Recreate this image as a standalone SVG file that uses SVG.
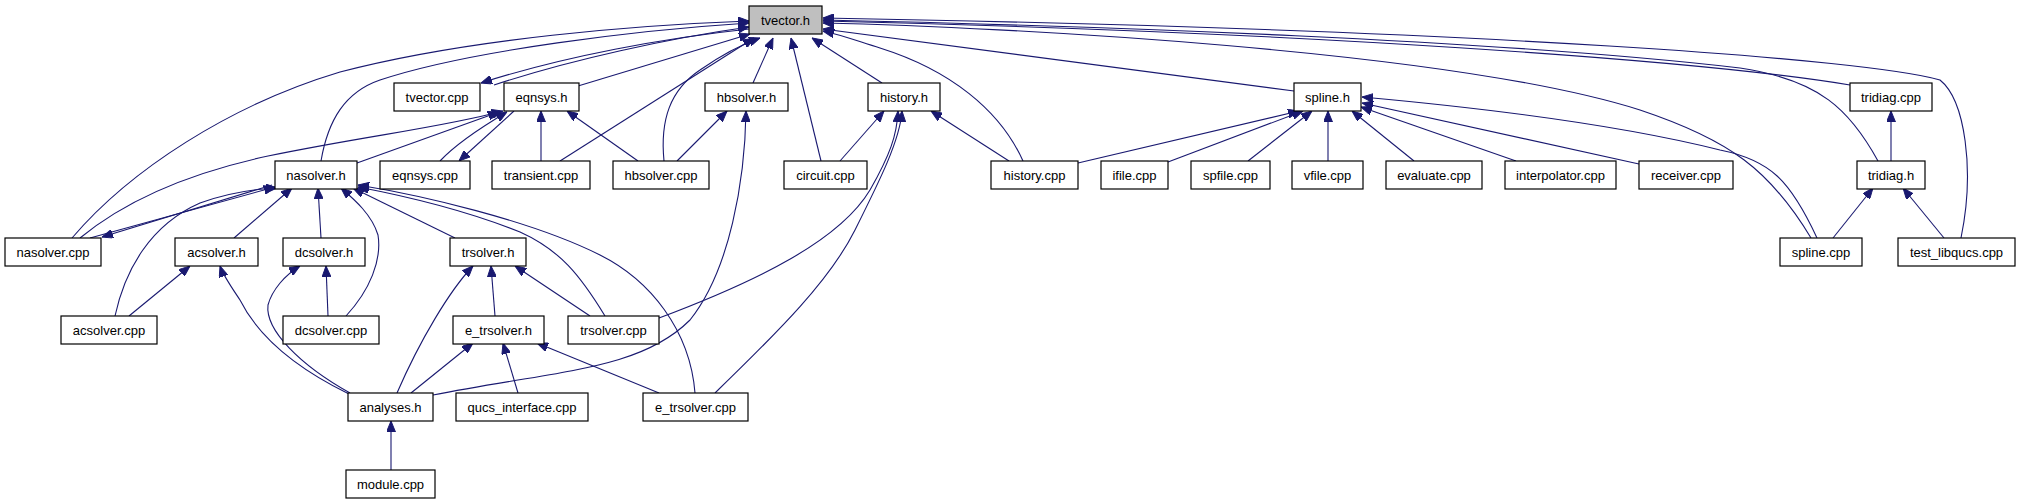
<svg xmlns="http://www.w3.org/2000/svg" width="2021" height="504" viewBox="0 0 2021 504">
<style>
.n rect{fill:#fff;stroke:#000;stroke-width:1.2}
.n text{font-family:"Liberation Sans",Arial,sans-serif;font-size:13px;text-anchor:middle;fill:#000}
#tvector_h rect{fill:#bfbfbf}
.e path{fill:none;stroke:#191970;stroke-width:1.1;marker-end:url(#a)}
</style>
<defs>
<marker id="a" viewBox="0 0 10 10" refX="10" refY="5" markerWidth="11" markerHeight="9" markerUnits="userSpaceOnUse" orient="auto" preserveAspectRatio="none">
<path d="M0,0 L10,5 L0,10 z" fill="#191970" stroke="#191970" stroke-width="1"/>
</marker>
</defs>
<rect width="2021" height="504" fill="#fff"/>
<g id="edges" class="e">
<path d="M72,238 C130,170 230,105 340,72 C470,38 640,25 749,21"/>
<path d="M321,161 C328,120 345,92 380,80 C470,50 640,30 749,23"/>
<path d="M494,85 C570,60 670,38 749,27"/>
<path d="M749,29 C665,38 565,56 481,83"/>
<path d="M578,86 L750,34"/>
<path d="M560,161 L754,38"/>
<path d="M664,161 C660,120 670,90 700,70 C720,56 740,45 760,38"/>
<path d="M753,83 L773,38"/>
<path d="M821,161 L791,38"/>
<path d="M882,83 L812,38"/>
<path d="M1023,161 C1000,110 950,70 880,48 C860,42 842,35 823,31"/>
<path d="M1294,91 L823,29"/>
<path d="M1811,238 C1770,170 1730,140 1640,110 C1450,50 1000,27 823,23"/>
<path d="M1850,85 C1700,60 1300,32 823,21"/>
<path d="M1878,161 C1850,110 1820,80 1740,68 C1500,40 1100,26 823,20"/>
<path d="M1961,238 C1975,170 1965,100 1940,80 C1870,60 1500,30 823,18"/>
<path d="M440,161 C455,145 480,128 507,112"/>
<path d="M514,111 L459,161"/>
<path d="M357,163 L499,112"/>
<path d="M80,238 C120,205 180,175 268,156 C370,135 440,128 503,111"/>
<path d="M541,161 L541,111"/>
<path d="M638,161 L567,111"/>
<path d="M677,161 L727,111"/>
<path d="M433,395 C560,370 640,370 690,320 C730,270 745,180 746,111"/>
<path d="M840,161 L884,111"/>
<path d="M659,318 C760,280 840,240 870,190 C890,155 897,135 898,111"/>
<path d="M715,393 C780,330 830,280 855,230 C880,180 900,140 902,111"/>
<path d="M1009,161 L931,111"/>
<path d="M1078,163 L1299,111"/>
<path d="M1168,162 L1303,111"/>
<path d="M1248,161 L1312,111"/>
<path d="M1328,161 L1328,111"/>
<path d="M1414,161 L1352,111"/>
<path d="M1516,161 L1361,107"/>
<path d="M1639,164 L1362,103"/>
<path d="M1817,238 C1790,180 1770,160 1720,150 C1600,120 1450,105 1362,97"/>
<path d="M1891,161 L1891,111"/>
<path d="M1833,238 L1873,188"/>
<path d="M1944,238 L1903,188"/>
<path d="M90,238 L275,187"/>
<path d="M272,185 L102,237"/>
<path d="M115,316 C125,270 150,225 200,203 C230,192 255,189 277,188"/>
<path d="M234,238 L292,188"/>
<path d="M321,238 L318,188"/>
<path d="M346,316 C370,290 382,260 378,235 C372,215 355,200 341,188"/>
<path d="M455,238 L353,188"/>
<path d="M605,316 C580,275 560,250 520,232 C460,208 400,195 358,187"/>
<path d="M695,393 C690,330 650,280 600,255 C530,220 420,195 358,185"/>
<path d="M129,316 L190,266"/>
<path d="M349,394 C300,370 260,340 240,300 C230,285 223,275 220,266"/>
<path d="M328,316 L326,266"/>
<path d="M350,393 C300,365 265,330 268,305 C272,290 285,275 300,266"/>
<path d="M397,393 C420,340 450,290 473,266"/>
<path d="M495,316 L491,266"/>
<path d="M590,316 L515,266"/>
<path d="M411,393 L473,343"/>
<path d="M518,393 L503,343"/>
<path d="M659,393 L537,343"/>
<path d="M391,470 L391,421"/>
</g>
<g id="tvector_h" class="n"><rect x="749" y="6" width="73" height="28"/><text x="785.5" y="25">tvector.h</text></g>
<g id="tvector_cpp" class="n"><rect x="394" y="83" width="86" height="28"/><text x="437" y="102">tvector.cpp</text></g>
<g id="eqnsys_h" class="n"><rect x="504" y="83" width="75" height="28"/><text x="541.5" y="102">eqnsys.h</text></g>
<g id="hbsolver_h" class="n"><rect x="705" y="83" width="83" height="28"/><text x="746.5" y="102">hbsolver.h</text></g>
<g id="history_h" class="n"><rect x="868" y="83" width="72" height="28"/><text x="904" y="102">history.h</text></g>
<g id="spline_h" class="n"><rect x="1294" y="83" width="67" height="28"/><text x="1327.5" y="102">spline.h</text></g>
<g id="tridiag_cpp" class="n"><rect x="1850" y="83" width="82" height="28"/><text x="1891" y="102">tridiag.cpp</text></g>
<g id="nasolver_h" class="n"><rect x="275" y="161" width="82" height="28"/><text x="316" y="180">nasolver.h</text></g>
<g id="eqnsys_cpp" class="n"><rect x="380" y="161" width="90" height="28"/><text x="425" y="180">eqnsys.cpp</text></g>
<g id="transient_cpp" class="n"><rect x="492" y="161" width="98" height="28"/><text x="541" y="180">transient.cpp</text></g>
<g id="hbsolver_cpp" class="n"><rect x="613" y="161" width="96" height="28"/><text x="661" y="180">hbsolver.cpp</text></g>
<g id="circuit_cpp" class="n"><rect x="784" y="161" width="83" height="28"/><text x="825.5" y="180">circuit.cpp</text></g>
<g id="history_cpp" class="n"><rect x="991" y="161" width="87" height="28"/><text x="1034.5" y="180">history.cpp</text></g>
<g id="ifile_cpp" class="n"><rect x="1101" y="161" width="67" height="28"/><text x="1134.5" y="180">ifile.cpp</text></g>
<g id="spfile_cpp" class="n"><rect x="1191" y="161" width="79" height="28"/><text x="1230.5" y="180">spfile.cpp</text></g>
<g id="vfile_cpp" class="n"><rect x="1292" y="161" width="71" height="28"/><text x="1327.5" y="180">vfile.cpp</text></g>
<g id="evaluate_cpp" class="n"><rect x="1386" y="161" width="96" height="28"/><text x="1434" y="180">evaluate.cpp</text></g>
<g id="interpolator_cpp" class="n"><rect x="1505" y="161" width="111" height="28"/><text x="1560.5" y="180">interpolator.cpp</text></g>
<g id="receiver_cpp" class="n"><rect x="1639" y="161" width="94" height="28"/><text x="1686" y="180">receiver.cpp</text></g>
<g id="tridiag_h" class="n"><rect x="1857" y="161" width="68" height="28"/><text x="1891" y="180">tridiag.h</text></g>
<g id="nasolver_cpp" class="n"><rect x="5" y="238" width="96" height="28"/><text x="53" y="257">nasolver.cpp</text></g>
<g id="acsolver_h" class="n"><rect x="175" y="238" width="83" height="28"/><text x="216.5" y="257">acsolver.h</text></g>
<g id="dcsolver_h" class="n"><rect x="283" y="238" width="82" height="28"/><text x="324" y="257">dcsolver.h</text></g>
<g id="trsolver_h" class="n"><rect x="450" y="238" width="76" height="28"/><text x="488" y="257">trsolver.h</text></g>
<g id="spline_cpp" class="n"><rect x="1780" y="238" width="82" height="28"/><text x="1821" y="257">spline.cpp</text></g>
<g id="test_libqucs_cpp" class="n"><rect x="1898" y="238" width="117" height="28"/><text x="1956.5" y="257">test_libqucs.cpp</text></g>
<g id="acsolver_cpp" class="n"><rect x="61" y="316" width="96" height="28"/><text x="109" y="335">acsolver.cpp</text></g>
<g id="dcsolver_cpp" class="n"><rect x="283" y="316" width="96" height="28"/><text x="331" y="335">dcsolver.cpp</text></g>
<g id="e_trsolver_h" class="n"><rect x="453" y="316" width="91" height="28"/><text x="498.5" y="335">e_trsolver.h</text></g>
<g id="trsolver_cpp" class="n"><rect x="568" y="316" width="91" height="28"/><text x="613.5" y="335">trsolver.cpp</text></g>
<g id="analyses_h" class="n"><rect x="348" y="393" width="85" height="28"/><text x="390.5" y="412">analyses.h</text></g>
<g id="qucs_interface_cpp" class="n"><rect x="456" y="393" width="132" height="28"/><text x="522" y="412">qucs_interface.cpp</text></g>
<g id="e_trsolver_cpp" class="n"><rect x="643" y="393" width="105" height="28"/><text x="695.5" y="412">e_trsolver.cpp</text></g>
<g id="module_cpp" class="n"><rect x="346" y="470" width="89" height="28"/><text x="390.5" y="489">module.cpp</text></g>
</svg>
